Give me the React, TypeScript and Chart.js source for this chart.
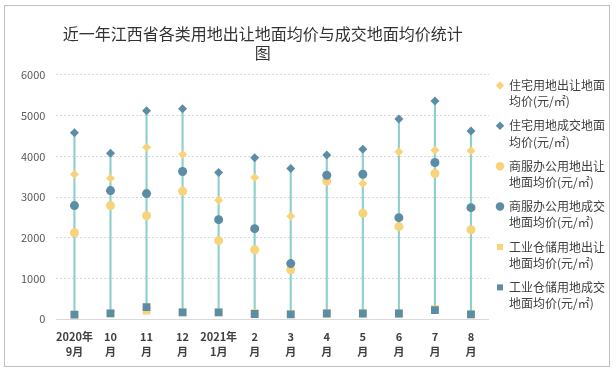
import React, { useEffect, useRef } from "react";
import { Chart, registerables } from "chart.js";

Chart.register(...registerables);

const categories: string[][] = [
  ["2020年", "9月"], ["10", "月"], ["11", "月"], ["12", "月"], ["2021年", "1月"],
  ["2", "月"], ["3", "月"], ["4", "月"], ["5", "月"], ["6", "月"], ["7", "月"], ["8", "月"],
];

const residentialSold = [3560, 3460, 4226, 4054, 2920, 3480, 2530, 3420, 3330, 4111, 4152, 4135];
const residentialDeal = [4579, 4078, 5121, 5170, 3605, 3968, 3700, 4030, 4177, 4916, 5360, 4620];
const commercialSold = [2124, 2790, 2543, 3142, 1930, 1705, 1215, 3390, 2600, 2272, 3578, 2198];
const commercialDeal = [2790, 3159, 3085, 3627, 2445, 2223, 1365, 3536, 3560, 2494, 3849, 2740];
const industrialSold = [110, 143, 214, 168, 168, 150, 125, 140, 145, 140, 250, 120];
const industrialDeal = [110, 143, 296, 168, 168, 128, 120, 140, 140, 140, 225, 120];

const seriesLabels: string[][] = [
  ["住宅用地出让地面", "均价(元/㎡)"],
  ["住宅用地成交地面", "均价(元/㎡)"],
  ["商服办公用地出让", "地面均价(元/㎡)"],
  ["商服办公用地成交", "地面均价(元/㎡)"],
  ["工业仓储用地出让", "地面均价(元/㎡)"],
  ["工业仓储用地成交", "地面均价(元/㎡)"],
];

const yTicks = [0, 1000, 2000, 3000, 4000, 5000, 6000];

const YELLOW = "#F8D37A";
const DARK = "#5B8DA4";
const STEM = "#8FD0CB";
const FONT = "'Noto Sans CJK SC', 'Noto Sans', sans-serif";

const titleShift = {
  id: "titleShift",
  afterLayout(chart: any) {
    const t = chart.titleBlock;
    if (t) {
      t.left -= 10;
      t.right -= 10;
    }
  },
};

export default function App() {
  const ref = useRef<HTMLCanvasElement | null>(null);

  useEffect(() => {
    if (!ref.current) return;
    const all = [residentialSold, residentialDeal, commercialSold, commercialDeal, industrialSold, industrialDeal];
    const stems = categories.map((_, i) => {
      const vals = all.map((s) => s[i]);
      return [Math.min(...vals), Math.max(...vals)];
    });
    const styles = [
      { data: residentialSold, color: YELLOW, style: "rectRot", r: 4.5 },
      { data: residentialDeal, color: DARK, style: "rectRot", r: 4.5 },
      { data: commercialSold, color: YELLOW, style: "circle", r: 4.5 },
      { data: commercialDeal, color: DARK, style: "circle", r: 4.5 },
      { data: industrialSold, color: YELLOW, style: "rect", r: 5.5 },
      { data: industrialDeal, color: DARK, style: "rect", r: 5.5 },
    ];
    const pointSets = styles.map((s, i) => ({
      type: "line" as const,
      label: seriesLabels[i].join(""),
      data: s.data,
      showLine: false,
      pointStyle: s.style,
      pointRadius: s.r,
      pointHoverRadius: s.r,
      pointBackgroundColor: s.color,
      pointBorderColor: s.color,
      pointBorderWidth: 0,
      backgroundColor: s.color,
      borderColor: s.color,
      order: 6 - i,
    }));

    const chart = new Chart(ref.current, {
      type: "bar",
      data: {
        labels: categories,
        datasets: [
          ...pointSets,
          {
            type: "bar" as const,
            label: "stem",
            data: stems as any,
            backgroundColor: STEM,
            barThickness: 1.5,
            order: 20,
          },
        ] as any,
      },
      plugins: [titleShift],
      options: {
        animation: false,
        responsive: false,
        maintainAspectRatio: false,
        layout: { padding: { left: 13, right: -6, top: 0, bottom: 4 } },
        plugins: {
          title: {
            display: true,
            fullSize: false,
            text: ["近一年江西省各类用地出让地面均价与成交地面均价统计", "图"],
            color: "#333333",
            font: { family: FONT, size: 16, weight: "normal", lineHeight: 1.2 },
            padding: { top: 18, bottom: 12.5 },
          },
          legend: {
            position: "right",
            align: "center",
            title: { display: true, text: " ", font: { size: 1 }, padding: { top: 12, bottom: 12 } },
            labels: {
              usePointStyle: true,
              boxWidth: 6,
              boxHeight: 6,
              padding: 8,
              color: "#404040",
              font: { family: FONT, size: 12, lineHeight: 1.35 },
              generateLabels: () =>
                styles.map((s, i) => ({
                  text: seriesLabels[i] as any,
                  fillStyle: s.color,
                  strokeStyle: s.color,
                  lineWidth: 0,
                  pointStyle: s.style as any,
                  hidden: false,
                  datasetIndex: i,
                  fontColor: "#404040",
                })),
            },
          },
          tooltip: { enabled: false },
        },
        scales: {
          x: {
            offset: true,
            grid: { display: false },
            border: { display: true, color: "#D9D9D9", width: 1 },
            ticks: {
              color: "#404040",
              font: { family: FONT, size: 11, weight: "bold", lineHeight: 1.4 },
              maxRotation: 0,
              autoSkip: false,
              padding: 2,
            },
          },
          y: {
            min: yTicks[0],
            max: yTicks[yTicks.length - 1],
            afterBuildTicks: (axis: any) => {
              axis.ticks = yTicks.map((v) => ({ value: v }));
            },
            grid: {
              color: "#D9D9D9",
              drawTicks: true,
              tickLength: 8,
              tickColor: "rgba(0,0,0,0)",
            },
            border: { display: false, dash: [2, 2] },
            ticks: {
              color: "#595959",
              font: { family: FONT, size: 11 },
              padding: 3,
              callback: (v: any) => String(v),
            },
          },
        },
      } as any,
    });
    return () => chart.destroy();
  }, []);

  return (
    <div
      style={{
        position: "absolute",
        left: 4,
        top: 5,
        width: 606,
        height: 362,
        boxSizing: "border-box",
        border: "1px solid #BFBFBF",
        background: "#fff",
      }}
    >
      <canvas ref={ref} width={604} height={360} style={{ display: "block", width: 604, height: 360 }} />
    </div>
  );
}
